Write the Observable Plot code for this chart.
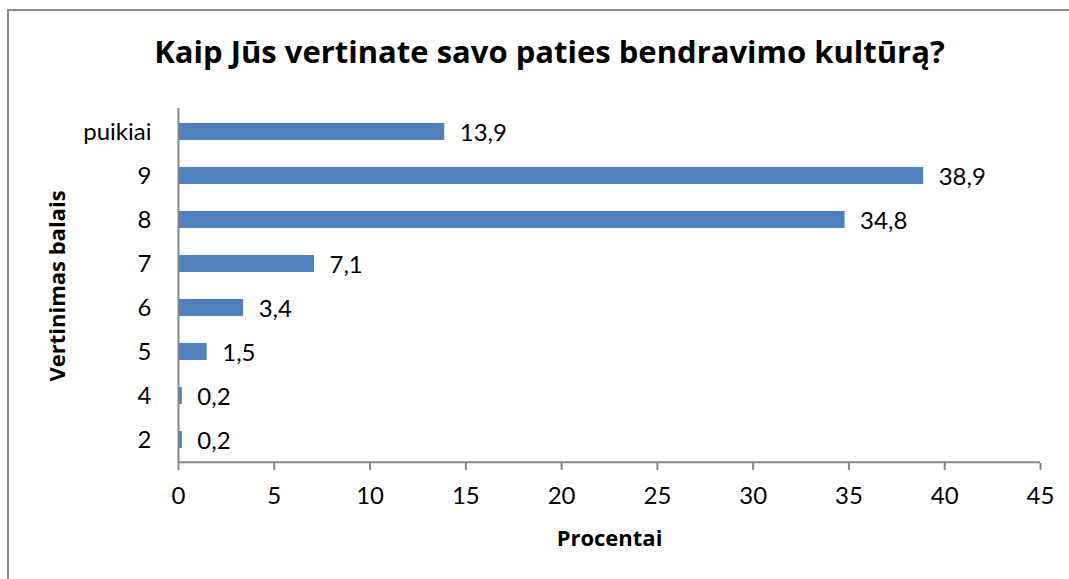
<!DOCTYPE html>
<html>
<head>
<meta charset="utf-8">
<script src="https://cdn.jsdelivr.net/npm/d3@7"></script>
<script src="https://cdn.jsdelivr.net/npm/@observablehq/plot@0.6"></script>
<style>
  html, body { margin: 0; padding: 0; background: #fff; }
  #wrap { position: relative; width: 1069px; height: 579px; overflow: hidden; font-family: Lato, "Open Sans", sans-serif; }
  #border { position: absolute; left: 7px; top: 9px; width: 1200px; height: 700px; border-left: 2px solid #8c8c8c; border-top: 2px solid #8c8c8c; pointer-events: none; }
  #title { height: 100px; box-sizing: border-box; padding-left: 30px; padding-top: 33px; text-align: center; font-family: "Open Sans", sans-serif; font-weight: bold; font-size: 31px; line-height: 37px; color: #000; white-space: nowrap; }
  #chart svg { display: block; }
</style>
</head>
<body>
<div id="wrap">
  <div id="title">Kaip Jūs vertinate savo paties bendravimo kultūrą?</div>
  <div id="chart"></div>
  <div id="border"></div>
</div>
<script>
const categories = ["puikiai", "9", "8", "7", "6", "5", "4", "2"];
const values = [13.9, 38.9, 34.8, 7.1, 3.4, 1.5, 0.2, 0.2];
const valueLabels = ["13,9", "38,9", "34,8", "7,1", "3,4", "1,5", "0,2", "0,2"];
const xTicks = [0, 5, 10, 15, 20, 25, 30, 35, 40, 45];
const xTitle = "Procentai";
const yTitle = "Vertinimas balais";

const data = categories.map((c, i) => ({cat: c, value: values[i], label: valueLabels[i]}));

const W = 1069, H = 479;
const mTop = 8, mBottom = 116;
const step = (H - mTop - mBottom) / categories.length;
const axisColor = "#868686";
const boldFont = "'Open Sans', sans-serif";

const chart = Plot.plot({
  width: W,
  height: H,
  marginLeft: 178,
  marginRight: 29,
  marginTop: mTop,
  marginBottom: mBottom,
  style: {fontFamily: "Lato, 'Open Sans', sans-serif", fontSize: "24px", color: "#000", background: "#fff"},
  x: {domain: [0, 45], ticks: xTicks},
  y: {domain: categories, paddingInner: 0.62, paddingOuter: 0.31},
  marks: [
    Plot.barX(data, {x: "value", y: "cat", fill: "#4F81BD"}),
    Plot.text(data, {x: "value", y: "cat", text: "label", textAnchor: "start", dx: 15, dy: 1, fontSize: 24, fill: "#000"}),
    Plot.ruleX([0], {stroke: axisColor, strokeWidth: 2}),
    Plot.ruleY([categories[categories.length - 1]], {y: d => d, x1: 0, x2: 45, dy: step / 2, stroke: axisColor, strokeWidth: 2}),
    Plot.axisX({ticks: xTicks, tickSize: 7, tickPadding: 16, stroke: axisColor, strokeWidth: 2, fill: "#000", fontSize: 24, label: null, tickFormat: d => String(d)}),
    Plot.axisY({tickSize: 0, tickPadding: 27, fill: "#000", fontSize: 24, label: null}),
    Plot.text([xTitle], {frameAnchor: "bottom", dy: 75, text: d => d, fontFamily: boldFont, fontWeight: "bold", fontSize: 22, lineAnchor: "middle", textAnchor: "middle", fill: "#000"}),
    Plot.text([yTitle], {frameAnchor: "left", dx: -121, rotate: -90, text: d => d, fontFamily: boldFont, fontWeight: "bold", fontSize: 22, lineAnchor: "middle", textAnchor: "middle", fill: "#000"})
  ]
});
document.getElementById("chart").appendChild(chart);
</script>
</body>
</html>
